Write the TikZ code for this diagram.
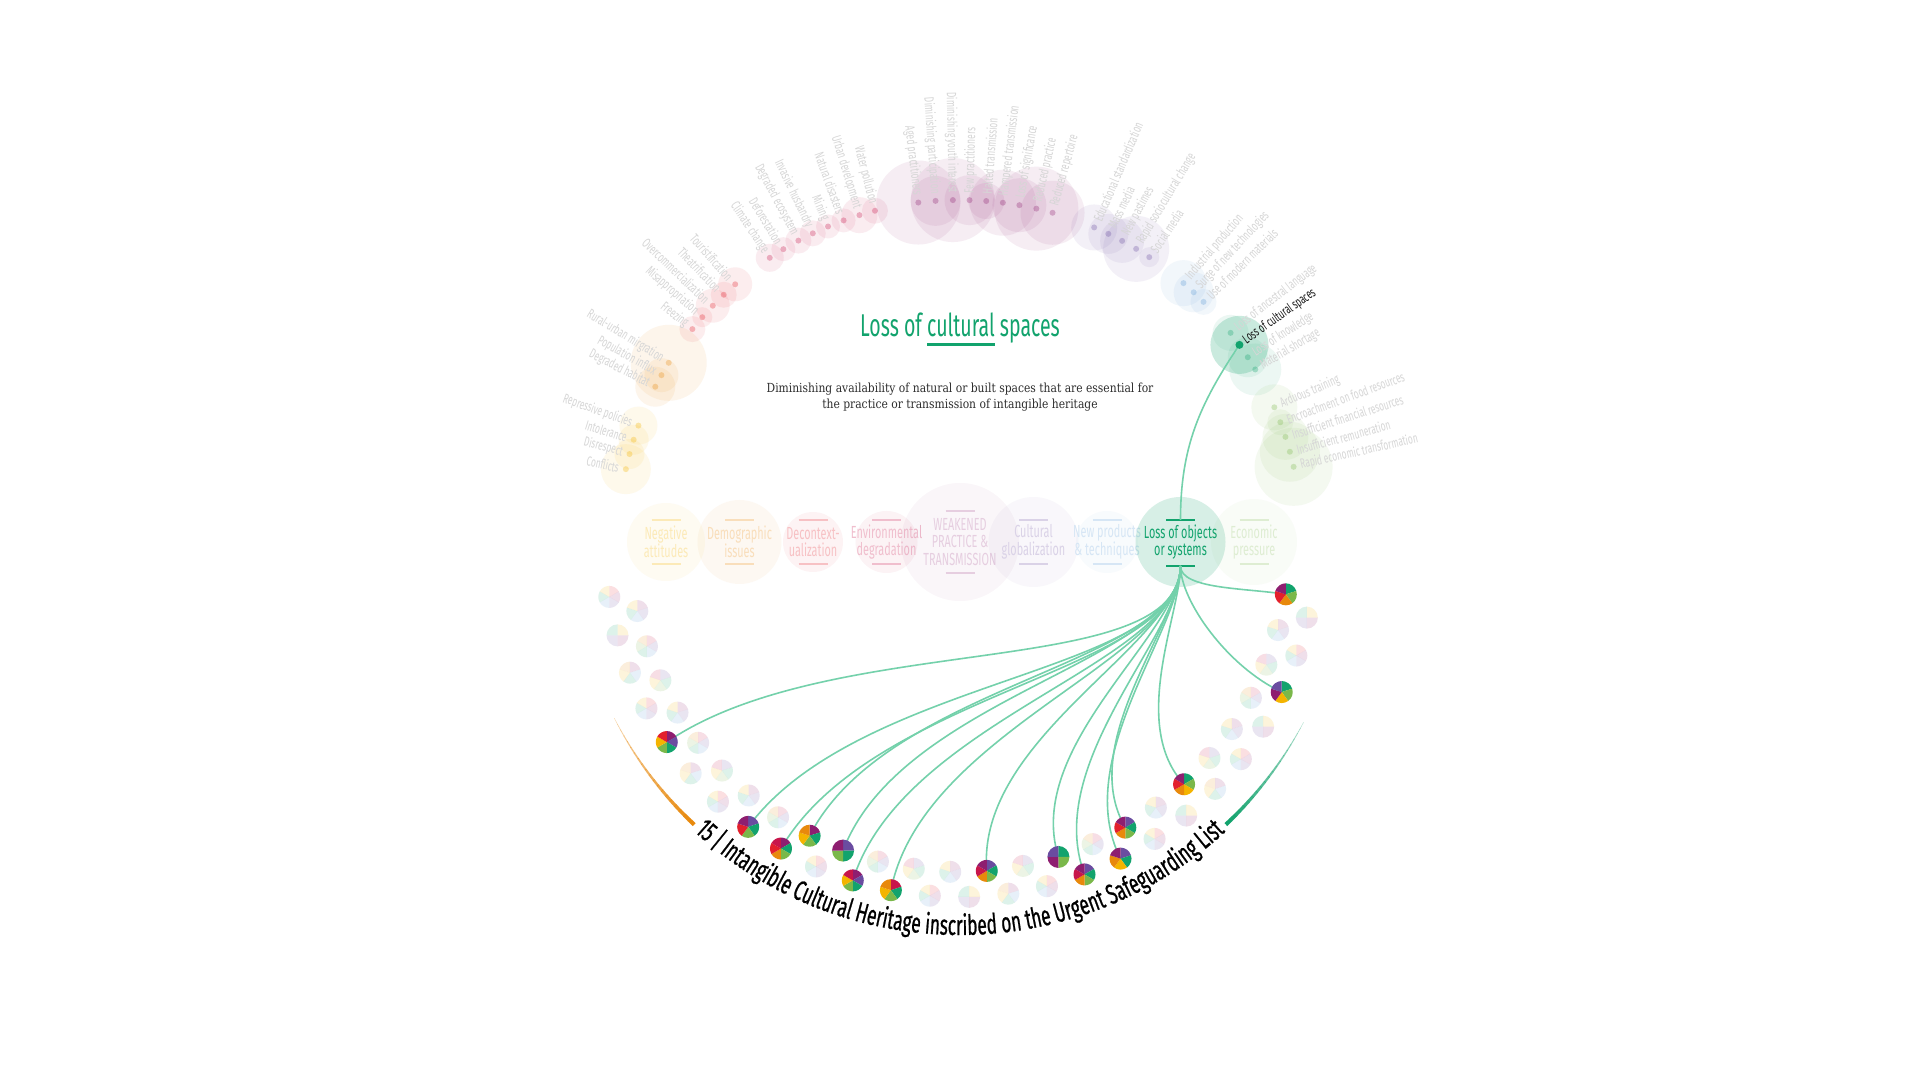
\documentclass[tikz,border=0pt]{standalone}
\usepackage{fontspec}
\usetikzlibrary{calc,decorations.text}
\newfontfamily\osw[FakeStretch=0.62]{Fira Sans}
\newfontfamily\oswb[FakeStretch=0.62,FakeBold=0.7]{Fira Sans}
\newfontfamily\descf[FakeStretch=0.86]{DejaVu Serif}
\newcommand\arcfontc{\oswb\fontsize{28}{31}\selectfont}
\definecolor{cYel}{HTML}{F4B400}
\definecolor{cOra}{HTML}{E8890C}
\definecolor{cRed}{HTML}{E3202C}
\definecolor{cCri}{HTML}{C8164B}
\definecolor{cMag}{HTML}{8E1E70}
\definecolor{cPur}{HTML}{6A4CA0}
\definecolor{cBlu}{HTML}{5B9BD5}
\definecolor{cGre}{HTML}{12A36D}
\definecolor{cLgr}{HTML}{7AB84A}
\definecolor{cLink}{HTML}{74D1AB}
\tikzset{
  toplab/.style={font=\osw\fontsize{13.5}{14}\selectfont, text=black!16, inner sep=1pt},
  rowtxt/.style={font=\osw\fontsize{17.5}{17.5}\selectfont, align=center, inner sep=0pt},
  link/.style={draw=cLink, line width=1.6pt},
  bar/.style={line width=2pt},
}
% pie lists
\expandafter\def\csname pl51\endcsname{cGre,cLgr,cOra,cRed,cMag}
\expandafter\def\csname pl46\endcsname{cGre,cLgr,cYel,cMag,cPur}
\expandafter\def\csname pl39\endcsname{cGre,cLgr,cYel,cOra,cRed,cMag}
\expandafter\def\csname pl35\endcsname{cPur,cGre,cLgr,cOra,cRed,cMag}
\expandafter\def\csname pl34\endcsname{cPur,cGre,cYel,cOra,cMag}
\expandafter\def\csname pl32\endcsname{cPur,cGre,cLgr,cOra,cCri,cMag}
\expandafter\def\csname pl31\endcsname{cGre,cLgr,cMag,cPur}
\expandafter\def\csname pl27\endcsname{cPur,cGre,cLgr,cOra,cCri,cMag}
\expandafter\def\csname pl22\endcsname{cCri,cGre,cLgr,cYel,cOra}
\expandafter\def\csname pl20\endcsname{cMag,cPur,cGre,cLgr,cYel,cCri}
\expandafter\def\csname pl19\endcsname{cPur,cGre,cLgr,cMag}
\expandafter\def\csname pl17\endcsname{cMag,cGre,cLgr,cYel,cOra}
\expandafter\def\csname pl16\endcsname{cMag,cGre,cLgr,cOra,cRed,cCri}
\expandafter\def\csname pl14\endcsname{cPur,cGre,cLgr,cRed,cMag}
\expandafter\def\csname pl8\endcsname{cMag,cPur,cGre,cLgr,cYel,cRed}
\def\fla{cRed,cMag,cPur,cBlu,cGre,cYel}
\def\flb{cMag,cPur,cBlu,cGre,cYel}
\def\flc{cYel,cMag,cPur,cGre}
\def\fld{cCri,cPur,cBlu,cGre,cLgr,cOra}
\def\fle{cMag,cBlu,cGre,cYel,cOra}
\def\flf{cPur,cGre,cLgr,cYel,cCri}
\newcommand\pieat[3]{%
  \foreach \cc [count=\j] in #2 {\xdef\pietot{\j}}%
  \foreach \cc [count=\j from 0] in #2 {%
    \pgfmathsetmacro\sa{90-\j*360/\pietot}%
    \pgfmathsetmacro\se{90-(\j+1)*360/\pietot}%
    \fill[\cc, fill opacity=#3] (#1) -- ++(\sa:11) arc[start angle=\sa, end angle=\se, radius=11] -- cycle;
  }%
}
\newcommand\rownode[8]{%
  \fill[#3, fill opacity=#7] (#2,538) circle (#4);
  \node[rowtxt, text=#3!#6] (#1) at (#2,538) {#5};
  \draw[bar, #3!#6] (#2-14.5,538+#8) -- (#2+14.5,538+#8);
  \draw[bar, #3!#6] (#2-14.5,538-#8) -- (#2+14.5,538-#8);
}
\def\toplist{167.7/cYel/25/Conflicts,165.1/cYel/15/Disrespect,162.6/cYel/15/Intolerance,160.1/cYel/19/Repressive policies,153.0/cOra/20/Degraded habitat,150.8/cOra/17/Population influx,148.4/cOra/38/Rural-urban mirgration,141.5/cRed/13/Freezing,138.9/cRed/10/Misappropriation,136.3/cRed/17/Overcommercialization,133.7/cRed/13/Theatrification,131.1/cRed/17/Touristification,123.8/cCri/14/Climate change,121.1/cCri/12/Deforestation,118.2/cCri/13/Degraded ecosystem,115.5/cCri/13/Invasive husbandry,112.7/cCri/12/Mining,109.9/cCri/12/Natural disasters,107.1/cCri/18/Urban development,104.4/cCri/13/Water pollution,97.0/cMag/42/Aged practitioners,94.1/cMag/25/Diminishing participation,91.2/cMag/42/Diminishing youth interest,88.4/cMag/25/Few practitioners,85.6/cMag/18/Halted transmission,82.8/cMag/33/Hampered transmission,80.0/cMag/27/Loss of significance,77.1/cMag/42/Reduced practice,74.3/cMag/32/Reduced repertoire,66.9/cPur/23/Educational standardization,64.3/cPur/20/Mass media,61.7/cPur/22/New pastimes,59.0/cPur/33/Rapid sociocultural change,56.4/cPur/10/Social media,49.2/cBlu/23/Industrial production,46.9/cBlu/20/Surge of new technologies,44.6/cBlu/13/Use of modern materials,37.7/cGre/18/Loss of ancestral language,32.7/cGre/20/Loss of knowledge,30.3/cGre/26/Material shortage,23.2/cLgr/23/Arduous training,20.5/cLgr/13/Encroachment on food resources,17.9/cLgr/23/Insufficient financial resources,15.3/cLgr/30/Insufficient remuneration,12.7/cLgr/39/Rapid economic transformation}
\begin{document}
\begin{tikzpicture}[x=1pt,y=1pt]
\useasboundingbox (0,0) rectangle (1920,1080);
\fill[white] (0,0) rectangle (1920,1080);
\coordinate (C) at (960,538);

% ---- faded outer ring of threats ----
\foreach \a/\c/\r/\t in \toplist {\fill[\c, fill opacity=0.08] ($(C)+(\a:342)$) circle (\r);}
\fill[cGre, fill opacity=0.22] ($(C)+(35.2:342)$) circle (29);
\foreach \a/\c/\r/\t in \toplist {\fill[\c, fill opacity=0.3] ($(C)+(\a:342)$) circle (3);}
\foreach \a/\c/\r/\t [count=\i] in \toplist {
  \ifdim\a pt>90pt
    \node[toplab, anchor=east, rotate=\a-180] (lab\i) at ($(C)+(\a:348)$) {\t};
  \else
    \node[toplab, anchor=west, rotate=\a] (lab\i) at ($(C)+(\a:348)$) {\t};
  \fi
}
\coordinate (lcs) at ($(C)+(35.2:342)$);

% ---- row of categories ----
\rownode{n1}{666}{cYel}{39}{Negative\\attitudes}{28}{0.05}{22}
\rownode{n2}{739.5}{cOra}{42}{Demographic\\issues}{28}{0.05}{22}
\rownode{n3}{813}{cRed}{30}{Decontext-\\ualization}{28}{0.05}{22}
\rownode{n4}{886.5}{cCri}{31}{Environmental\\degradation}{28}{0.05}{22}
\rownode{n5}{960}{cMag}{59}{WEAKENED\\PRACTICE \&\\TRANSMISSION}{22}{0.04}{31}
\rownode{n6}{1033.5}{cPur}{45}{Cultural\\globalization}{25}{0.04}{22}
\rownode{n7}{1107}{cBlu}{31}{New products\\\& techniques}{25}{0.04}{22}
\rownode{n9}{1254}{cLgr}{43}{Economic\\pressure}{25}{0.04}{22}
\fill[cGre, fill opacity=0.17] (1180.5,538) circle (45);
\node[rowtxt, text=cGre] (n8) at (1180.5,538) {Loss of objects\\or systems};
\draw[bar, cGre] (1166,560) -- (1195,560);
\draw[bar, cGre] (1166,514) -- (1195,514);
\coordinate (objT) at (1180.5,560);
\coordinate (objB) at (1180.5,514);

% ---- title and description ----
\node[font=\osw\fontsize{31.5}{34}\selectfont, text=cGre, anchor=base, inner sep=0pt] (title) at (960,743)
  {Loss of \setbox0\hbox{cultural}\rlap{\raisebox{-9.5pt}{\rule{\wd0}{3pt}}}\box0\ spaces};
\node[font=\descf\fontsize{12.5}{16}\selectfont, text=black!82, align=center] (desc) at (960,683)
  {Diminishing availability of natural or built spaces that are essential for\\the practice or transmission of intangible heritage};

% ---- pies ----
\foreach \k in {0,...,51} {
  \pgfmathsetmacro\pa{-171.1+\k*3.176}
  \pgfmathsetmacro\pr{mod(\k,2)==1 ? 330 : 355}
  \coordinate (p\k) at ($(C)+(\pa:\pr)$);
}
\foreach \k in {0,...,51} {
  \ifcsname pl\k\endcsname\else
    \pgfmathtruncatemacro\m{mod(\k,6)}
    \ifcase\m \let\cur\fla\or\let\cur\flb\or\let\cur\flc\or\let\cur\fld\or\let\cur\fle\or\let\cur\flf\fi
    \pieat{p\k}{\cur}{0.14}
  \fi
}

% ---- connectors ----
\draw[link] (objT) to[out=90, in=236] (lcs);
\foreach \k in {8,14,16,17,19,20,22,27,31,32,34,35,39,46,51} {
  \pgfmathsetmacro\pin{-171.1+\k*3.176+180}
  \draw[link] (objB) to[out=-90, in=\pin, out looseness=0.55, in looseness=0.95] (p\k);
}
\foreach \k in {8,14,16,17,19,20,22,27,31,32,34,35,39,46,51} {
  \expandafter\let\expandafter\cur\csname pl\k\endcsname
  \pieat{p\k}{\cur}{1}
}

% ---- highlighted threat ----
\fill[cGre] (lcs) circle (4);
\node[font=\osw\fontsize{13.5}{14}\selectfont, text=black!90, anchor=west, rotate=35.2, inner sep=1pt] (lcslab) at ($(C)+(35.2:347)$) {Loss of cultural spaces};

% ---- bottom arcs and label ----
\foreach \i in {0,...,19} {
  \pgfmathsetmacro\aa{-153+\i*0.985}
  \draw[cOra, line width={0.4+\i*0.19}, opacity={0.35+\i*0.034}] ($(C)+(\aa:388)$) arc[start angle=\aa, delta angle=1.05, radius=388];
}
\foreach \i in {0,...,19} {
  \pgfmathsetmacro\aa{-27.7-\i*0.95}
  \draw[cGre, line width={0.4+\i*0.19}, opacity={0.35+\i*0.034}] ($(C)+(\aa:388)$) arc[start angle=\aa, delta angle=-1.0, radius=388];
}
\path[decorate, decoration={text along path, text format delimiters={[}{]},
  text={[\arcfontc]15 | Intangible Cultural Heritage inscribed on the Urgent Safeguarding List},
  text align=center}]
  ($(C)+(-136:393)$) arc[start angle=-136, end angle=-44, radius=393];
\end{tikzpicture}
\end{document}
